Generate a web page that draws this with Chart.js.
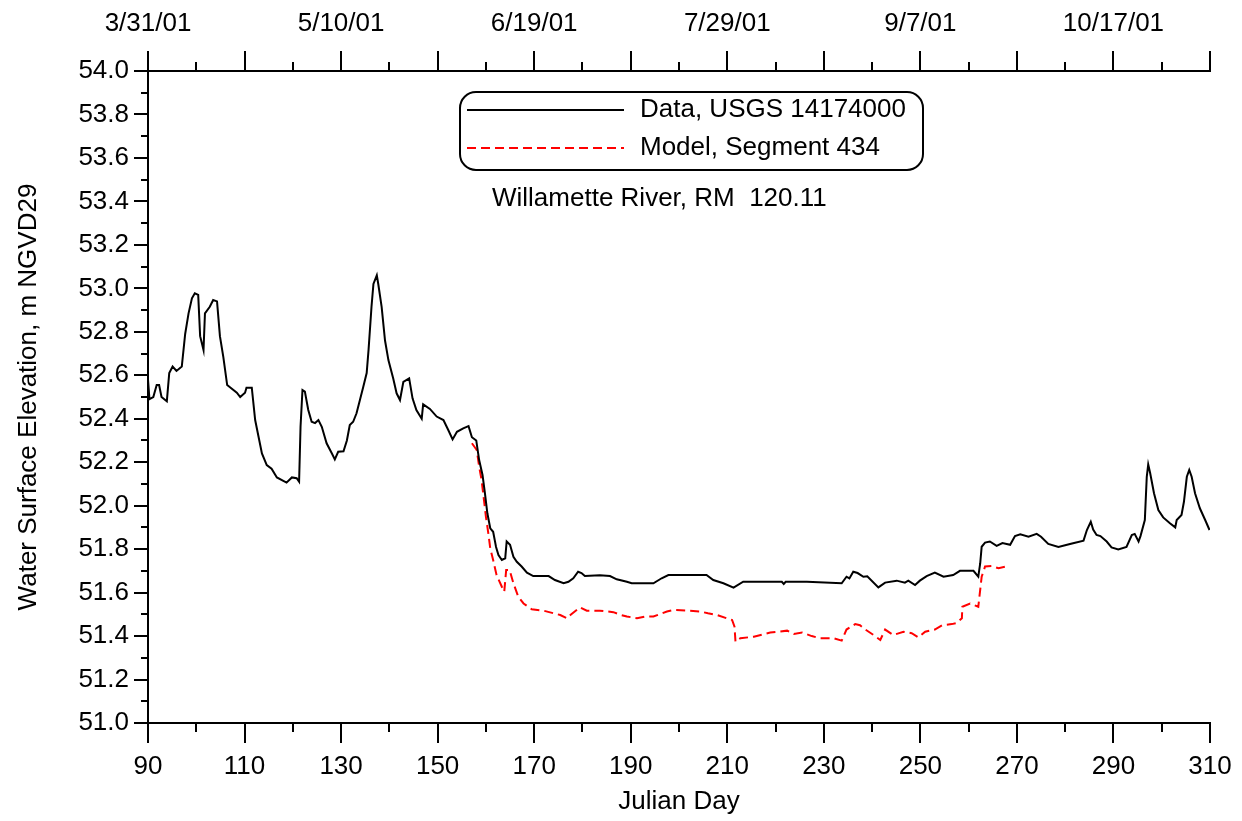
<!DOCTYPE html>
<html>
<head>
<meta charset="utf-8">
<script src="https://cdn.jsdelivr.net/npm/chart.js@4"></script>
<style>
  body { margin: 0; background: #fff; }
  #wrap { width: 1242px; height: 821px; }
</style>
</head>
<body>
<div id="wrap"><canvas id="chart" width="1242" height="821"></canvas></div>
<script>
// Julian day ticks (bottom) and date labels (top)
const dayTicks = [90, 110, 130, 150, 170, 190, 210, 230, 250, 270, 290, 310];
const dateDays = [90, 130, 170, 210, 250, 290];
const dateLabels = ['3/31/01', '5/10/01', '6/19/01', '7/29/01', '9/7/01', '10/17/01'];
const elevTicks = [51.0, 51.2, 51.4, 51.6, 51.8, 52.0, 52.2, 52.4, 52.6, 52.8, 53.0, 53.2, 53.4, 53.6, 53.8, 54.0];

// USGS gauge data
const dataDays = [90.0, 90.3, 91.1, 91.8, 92.3, 92.8, 93.9, 94.4, 95.1, 95.9, 97.0, 97.7, 98.4, 99.1, 99.7, 100.4, 100.8, 101.5, 101.8, 102.8,
  103.5, 104.3, 104.9, 105.6, 106.4, 108.4, 109.1, 110.1, 110.4, 111.5, 112.2, 112.9, 113.6, 114.6, 115.6, 116.7, 118.7, 119.8, 120.8, 121.3,
  121.6, 122.0, 122.5, 123.2, 123.9, 124.6, 125.3, 126.0, 127.0, 128.1, 128.7, 129.4, 130.5, 131.2, 131.8, 132.5, 133.2, 133.9, 134.6, 135.3,
  135.7, 136.3, 136.7, 137.4, 137.7, 138.4, 139.1, 139.8, 140.8, 141.5, 142.2, 142.9, 144.1, 144.8, 145.6, 146.7, 147.0, 148.4, 149.8, 151.2,
  152.2, 153.1, 154.0, 155.3, 156.4, 157.1, 158.0, 158.6, 159.3, 159.8, 160.3, 160.9, 161.5, 162.1, 162.6, 163.3, 164.0, 164.3, 165.0, 165.7,
  166.4, 167.4, 168.5, 169.8, 173.0, 174.3, 176.1, 177.1, 178.1, 179.1, 179.8, 180.5, 183.6, 185.7, 187.1, 189.2, 190.2, 194.7, 196.4, 197.8,
  205.7, 207.1, 209.2, 211.3, 213.3, 221.3, 221.7, 222.1, 226.5, 233.7, 234.7, 235.3, 236.1, 237.0, 238.2, 239.0, 241.3, 242.7, 245.1, 246.8,
  247.5, 248.9, 249.9, 251.3, 253.0, 254.8, 256.8, 258.2, 261.0, 262.0, 262.4, 262.7, 263.4, 264.4, 265.8, 267.0, 268.6, 269.6, 270.7, 272.4,
  274.1, 275.0, 276.5, 278.6, 281.0, 283.8, 284.5, 285.3, 285.8, 286.5, 287.3, 288.6, 289.6, 291.0, 292.7, 293.8, 294.4, 295.2, 295.6, 296.5,
  296.9, 297.2, 297.6, 298.4, 299.3, 300.3, 301.7, 302.8, 303.1, 304.1, 304.6, 305.2, 305.7, 306.2, 306.9, 307.9, 309.0, 309.9];
const dataElev = [52.58, 52.49, 52.50, 52.555, 52.555, 52.50, 52.48, 52.61, 52.64, 52.62, 52.64, 52.79, 52.885, 52.954, 52.977, 52.97, 52.78, 52.716, 52.885, 52.915,
  52.946, 52.94, 52.78, 52.685, 52.555, 52.52, 52.50, 52.52, 52.543, 52.543, 52.394, 52.317, 52.24, 52.187, 52.17, 52.13, 52.106, 52.13, 52.126, 52.11,
  52.363, 52.532, 52.525, 52.44, 52.386, 52.38, 52.394, 52.363, 52.287, 52.24, 52.213, 52.248, 52.25, 52.30, 52.371, 52.386, 52.425, 52.486, 52.547, 52.61,
  52.72, 52.915, 53.02, 53.06, 53.02, 52.915, 52.76, 52.67, 52.585, 52.517, 52.486, 52.57, 52.586, 52.494, 52.44, 52.40, 52.466, 52.445, 52.41, 52.394,
  52.348, 52.305, 52.34, 52.356, 52.366, 52.315, 52.30, 52.21, 52.141, 52.057, 51.965, 51.896, 51.88, 51.81, 51.773, 51.75, 51.758, 51.835, 51.82, 51.765,
  51.742, 51.72, 51.692, 51.676, 51.676, 51.658, 51.643, 51.65, 51.666, 51.696, 51.69, 51.676, 51.68, 51.676, 51.661, 51.65, 51.643, 51.643, 51.666, 51.681,
  51.681, 51.658, 51.643, 51.623, 51.65, 51.65, 51.64, 51.65, 51.65, 51.643, 51.673, 51.665, 51.696, 51.69, 51.673, 51.675, 51.624, 51.646, 51.655, 51.646,
  51.655, 51.635, 51.655, 51.676, 51.692, 51.673, 51.681, 51.70, 51.70, 51.673, 51.735, 51.811, 51.83, 51.835, 51.815, 51.828, 51.82, 51.86, 51.868, 51.857,
  51.87, 51.857, 51.824, 51.81, 51.824, 51.839, 51.888, 51.926, 51.89, 51.865, 51.86, 51.835, 51.808, 51.799, 51.81, 51.865, 51.87, 51.835, 51.86, 51.934,
  52.133, 52.19, 52.15, 52.057, 51.98, 51.946, 51.919, 51.90, 51.934, 51.957, 52.018, 52.133, 52.164, 52.133, 52.057, 51.988, 51.934, 51.888];

// model output, segment 434
const modelDays = [157.1, 158.1, 158.6, 159.1, 159.6, 160.0, 160.5, 160.9, 161.5, 162.2, 163.3, 163.8, 164.2, 164.9, 165.7, 166.7, 167.8, 169.5, 171.9, 174.0,
  175.4, 176.8, 177.5, 179.5, 180.9, 183.6, 186.4, 188.0, 189.2, 191.3, 193.0, 194.7, 197.5, 199.0, 201.7, 204.4, 206.0, 207.9, 209.9, 211.0,
  211.5, 211.7, 212.7, 215.5, 218.9, 222.4, 223.8, 225.5, 227.5, 229.2, 232.0, 233.7, 234.7, 236.5, 237.5, 238.6, 240.3, 241.7, 242.7, 244.4,
  246.5, 248.2, 249.6, 251.0, 253.0, 254.5, 256.5, 257.5, 258.6, 258.7, 260.3, 262.0, 262.7, 263.4, 264.8, 266.2, 267.8];
const modelElev = [52.287, 52.256, 52.18, 52.118, 52.026, 51.95, 51.873, 51.804, 51.75, 51.681, 51.627, 51.604, 51.704, 51.704, 51.643, 51.581, 51.55, 51.523, 51.517, 51.505,
  51.497, 51.482, 51.497, 51.532, 51.517, 51.517, 51.51, 51.497, 51.49, 51.482, 51.49, 51.49, 51.513, 51.52, 51.517, 51.513, 51.505, 51.497, 51.482, 51.474,
  51.443, 51.374, 51.39, 51.397, 51.416, 51.425, 51.41, 51.416, 51.40, 51.39, 51.39, 51.379, 51.43, 51.455, 51.45, 51.43, 51.405, 51.382, 51.43, 51.405,
  51.42, 51.413, 51.394, 51.42, 51.43, 51.45, 51.455, 51.46, 51.482, 51.535, 51.55, 51.535, 51.673, 51.72, 51.722, 51.712, 51.72];

const FONT = 'Liberation Sans, Arial, sans-serif';

// fixes the plot box to the reference: 148..1210 x 71..723
const noSidePad = (s) => { s.paddingLeft = 0; s.paddingRight = 0; };

// tick marks (major + minor) and the legend box, drawn over the chart
const decorPlugin = {
    id: 'decor',
    afterDraw: (chart) => {
        const ctx = chart.ctx;
        const a = chart.chartArea;
        const xs = chart.scales.x, ys = chart.scales.y;
        ctx.save();
        ctx.strokeStyle = '#000';
        ctx.lineWidth = 2;
        ctx.beginPath();
        for (let d = 90; d <= 310; d += 10) {
            const px = Math.round(xs.getPixelForValue(d));
            const len = (d - 90) % 20 === 0 ? 20 : 9;
            ctx.moveTo(px, a.bottom); ctx.lineTo(px, a.bottom + len);
            ctx.moveTo(px, a.top); ctx.lineTo(px, a.top - len);
        }
        for (let i = 0; i <= 30; i++) {
            const py = Math.round(ys.getPixelForValue(51 + i * 0.1));
            const len = i % 2 === 0 ? 14 : 7;
            ctx.moveTo(a.left - len, py); ctx.lineTo(a.left, py);
        }
        ctx.stroke();

        // legend box
        ctx.beginPath();
        ctx.roundRect(460, 92, 463, 78, 16);
        ctx.stroke();
        ctx.font = '26px ' + FONT;
        ctx.fillStyle = '#000';
        ctx.textBaseline = 'middle';
        const rows = [110, 148];
        chart.data.datasets.forEach((ds, i) => {
            ctx.save();
            ctx.strokeStyle = ds.borderColor;
            ctx.lineWidth = 2;
            ctx.setLineDash(ds.borderDash || []);
            ctx.beginPath();
            ctx.moveTo(467, rows[i]); ctx.lineTo(624, rows[i]);
            ctx.stroke();
            ctx.restore();
            ctx.fillText(ds.label, 640, rows[i]);
        });
        ctx.fillText('Willamette River, RM  120.11', 492, 199);
        ctx.restore();
    }
};

new Chart(document.getElementById('chart'), {
    type: 'line',
    data: {
        datasets: [
            {
                label: 'Data, USGS 14174000',
                data: dataDays.map((d, i) => ({ x: d, y: dataElev[i] })),
                borderColor: '#000000',
                borderWidth: 2,
                pointRadius: 0,
                tension: 0,
                fill: false
            },
            {
                label: 'Model, Segment 434',
                data: modelDays.map((d, i) => ({ x: d, y: modelElev[i] })),
                borderColor: '#ff0000',
                borderWidth: 2,
                borderDash: [9, 5],
                pointRadius: 0,
                tension: 0,
                fill: false
            }
        ]
    },
    options: {
        responsive: false,
        animation: false,
        layout: { padding: { left: 0, right: 32, top: 0, bottom: 0 } },
        plugins: { legend: { display: false }, tooltip: { enabled: false } },
        scales: {
            x: {
                type: 'linear', position: 'bottom', min: 90, max: 310,
                afterBuildTicks: (s) => { s.ticks = dayTicks.map(v => ({ value: v })); },
                afterFit: (s) => { s.height = 98; noSidePad(s); },
                grid: { display: false, drawTicks: false },
                border: { display: true, color: '#000', width: 2 },
                ticks: { color: '#000', font: { family: FONT, size: 26 }, padding: 28, autoSkip: false, maxRotation: 0 },
                title: { display: true, text: 'Julian Day', color: '#000', font: { family: FONT, size: 26 }, padding: { top: 0, bottom: 4 } }
            },
            x2: {
                type: 'linear', position: 'top', min: 90, max: 310,
                afterBuildTicks: (s) => { s.ticks = dateDays.map(v => ({ value: v })); },
                afterFit: (s) => { s.height = 71; noSidePad(s); },
                grid: { display: false, drawTicks: false },
                border: { display: true, color: '#000', width: 2 },
                ticks: {
                    color: '#000', font: { family: FONT, size: 26 }, padding: 32, autoSkip: false, maxRotation: 0,
                    callback: (v) => dateLabels[dateDays.indexOf(v)]
                }
            },
            y: {
                type: 'linear', min: 51, max: 54,
                afterBuildTicks: (s) => { s.ticks = elevTicks.map(v => ({ value: v })); },
                afterFit: (s) => { s.width = 148; s.paddingTop = 0; s.paddingBottom = 0; },
                grid: { display: false, drawTicks: false },
                border: { display: true, color: '#000', width: 2 },
                ticks: { color: '#000', font: { family: FONT, size: 26 }, padding: 19, callback: (v) => v.toFixed(1) },
                title: { display: true, text: 'Water Surface Elevation, m NGVD29', color: '#000', font: { family: FONT, size: 26 }, padding: { top: 13, bottom: 0 } }
            }
        }
    },
    plugins: [decorPlugin]
});
</script>
</body>
</html>
